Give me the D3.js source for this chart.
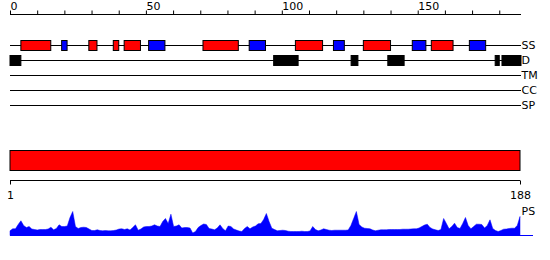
<!DOCTYPE html>
<html>
<head>
<meta charset="utf-8">
<script src="https://cdn.jsdelivr.net/npm/d3@7"></script>
<style>
  body { margin: 0; background: #fff; }
  svg { display: block; font-family: "DejaVu Sans", sans-serif; }
</style>
</head>
<body>
<svg id="Chart"></svg>
<script>
// sequence length and tick labels
let seqLength = 188;
let topTicks = d3.range(0, 181, 10);
let topLabels = [0, 50, 100, 150];
let bottomTicks = [1, 188];

// tracks, top to bottom
let trackNames = ["SS", "D", "TM", "CC", "SP"];

// secondary structure segments [start, end]
let helices = [[4, 15], [29, 32], [38, 40], [42, 48], [71, 84], [105, 115], [130, 140], [155, 163]];
let strands = [[19, 21], [51, 57], [88, 94], [119, 123], [148, 153], [169, 175]];
// disordered segments
let disorder = [[0, 4], [97, 106], [125.5, 128], [139, 145], [178.5, 180], [181, 188]];
// domain bar
let domains = [[1, 188]];

// PS profile, one value per residue
let psValues = [
  4.7, 6.7, 6.7, 11, 14.7, 10, 8, 9, 6.5, 6,
  5.5, 6, 6, 6, 6.5, 8.3, 5.7, 7, 10.7, 9,
  9, 9.5, 18, 24, 9, 7, 8, 8.3, 8, 6.5,
  5, 5, 5.7, 5, 4.7, 5, 4.7, 4.7, 5, 5.5,
  6.5, 6.7, 6, 6.7, 5.5, 8, 10.7, 5.3, 6.5, 8.5,
  9, 9, 9.5, 10.7, 9.5, 9, 14, 17, 12, 21.3,
  9, 9.5, 10.7, 7.5, 8, 8, 7.5, 2.5, 4, 8,
  10, 11.5, 11, 7, 6.5, 5.7, 7.5, 10.7, 7, 4.7,
  9.5, 9, 6.5, 5.5, 4.5, 4, 7, 9, 6.7, 8.5,
  9.5, 11.7, 12, 16, 22, 14, 7.3, 6, 4.7, 5,
  5.3, 5, 4.3, 4, 4, 4, 4, 4.3, 4, 4,
  4.5, 9, 6, 4.7, 5.5, 6.7, 6, 5.3, 5, 5.3,
  5.3, 5.3, 5.3, 5.3, 5.5, 10, 17, 24, 11, 8.5,
  7.3, 7, 6.7, 5.5, 4.7, 5.3, 5.7, 5.7, 5.7, 6,
  6, 6, 6, 6, 6.3, 6.3, 6.3, 6.5, 6.7, 6.7,
  7.5, 9, 10.5, 11.3, 8, 6.5, 5.7, 5, 6, 17,
  12, 6.7, 9, 12.3, 8, 7, 12, 18, 10, 6.7,
  9, 11.3, 11.3, 11, 7.5, 10, 15.7, 7, 5, 4,
  5, 6.3, 6.5, 7, 7.3, 7.3, 10, 19
];

function getConfig() {
  let width = 550;
  let height = 260;
  let container = d3.select("#Chart")
    .attr("width", width)
    .attr("height", height)
  return {
    width, height, container,
    left: 10,
    topAxisY: 14.5,
    trackY0: 45.5,
    trackStep: 15,
    boxHeight: 10,
    barTop: 150.5,
    barHeight: 20,
    bottomAxisY: 180.5,
    psBase: 235.5,
    psMaxHeight: 25
  }
}

function getScales(config) {
  // the feature tracks and the domain bar use slightly different ranges
  let xTop = d3.scaleLinear().domain([0, seqLength]).range([config.left, 521])
  let xBottom = d3.scaleLinear().domain([1, seqLength]).range([config.left, 520])
  let yTrack = d3.scalePoint().domain(trackNames)
    .range([config.trackY0, config.trackY0 + config.trackStep * (trackNames.length - 1)])
  let yPS = d3.scaleLinear().domain([0, 25]).range([config.psBase, config.psBase - config.psMaxHeight])
  return { xTop, xBottom, yTrack, yPS }
}

function drawTopAxis(scales, config) {
  let axis = d3.axisTop(scales.xTop)
    .tickValues(topTicks)
    .tickSize(4)
    .tickSizeOuter(0)
    .tickFormat(d => topLabels.includes(d) ? d : "")

  let g = config.container.append("g")
    .attr("transform", `translate(0,${config.topAxisY})`)
    .call(axis)
  g.select(".domain").attr("d", `M${scales.xTop(0)},0H${scales.xTop(seqLength)}`)
  g.selectAll("line").attr("stroke", "#000")
  g.selectAll("text")
    .attr("y", -4.5)
    .attr("x", 0)
    .attr("text-anchor", "start")
    .style("font-size", "11px")
    .style("font-family", "DejaVu Sans")
    .attr("fill", "#000")
}

function drawTracks(scales, config) {
  let { xTop, yTrack } = scales;
  let body = config.container.append("g")

  body.selectAll(".track")
    .data(trackNames)
    .enter().append("line")
    .attr("x1", xTop(0))
    .attr("x2", xTop(seqLength))
    .attr("y1", d => yTrack(d))
    .attr("y2", d => yTrack(d))
    .attr("stroke", "#000")

  body.selectAll(".tracklabel")
    .data(trackNames)
    .enter().append("text")
    .attr("x", xTop(seqLength) + 0.5)
    .attr("y", d => yTrack(d) + 3.5)
    .style("font-size", "11px")
    .text(d => d)

  let segs = [
    { data: helices, track: "SS", fill: "#ff0000" },
    { data: strands, track: "SS", fill: "#0000ff" },
    { data: disorder, track: "D", fill: "#000000" }
  ]
  segs.forEach(s => {
    body.selectAll(null)
      .data(s.data)
      .enter().append("rect")
      .attr("x", d => xTop(d[0]))
      .attr("width", d => xTop(d[1]) - xTop(d[0]))
      .attr("y", yTrack(s.track) - config.boxHeight / 2)
      .attr("height", config.boxHeight)
      .attr("fill", s.fill)
      .attr("stroke", "#000")
  })
}

function drawDomainBar(scales, config) {
  let { xBottom } = scales;
  config.container.selectAll(".domainbar")
    .data(domains)
    .enter().append("rect")
    .attr("x", d => xBottom(d[0]))
    .attr("width", d => xBottom(d[1]) - xBottom(d[0]))
    .attr("y", config.barTop)
    .attr("height", config.barHeight)
    .attr("fill", "#ff0000")
    .attr("stroke", "#000")

  let axis = d3.axisBottom(xBottom)
    .tickValues(bottomTicks)
    .tickSize(4)
    .tickSizeOuter(0)
    .tickPadding(7)
  let g = config.container.append("g")
    .attr("transform", `translate(0,${config.bottomAxisY})`)
    .call(axis)
  g.select(".domain").attr("d", `M${xBottom(1)},0H${xBottom(seqLength)}`)
  g.selectAll("line").attr("stroke", "#000")
  g.selectAll("text")
    .style("font-size", "11px")
    .style("font-family", "DejaVu Sans")
    .attr("fill", "#000")
}

function drawPS(scales, config) {
  let { xBottom, yPS } = scales;
  let area = d3.area()
    .x((d, i) => xBottom(i + 1))
    .y0(config.psBase)
    .y1(d => yPS(d))

  config.container.append("path")
    .datum(psValues)
    .attr("d", area)
    .attr("fill", "#0000ff")
    .attr("stroke", "#0000ff")
    .attr("stroke-width", 0.5)

  // baseline runs a little past the last residue
  config.container.append("line")
    .attr("x1", xBottom(1))
    .attr("x2", xBottom(seqLength) + 13)
    .attr("y1", config.psBase)
    .attr("y2", config.psBase)
    .attr("stroke", "#0000ff")

  config.container.append("text")
    .attr("x", xBottom(seqLength) + 1.5)
    .attr("y", yPS(25) + 4.5)
    .style("font-size", "11px")
    .text("PS")
}

function drawChart() {
  let config = getConfig();
  let scales = getScales(config);
  drawTopAxis(scales, config);
  drawTracks(scales, config);
  drawDomainBar(scales, config);
  drawPS(scales, config);
}

drawChart();
</script>
</body>
</html>
